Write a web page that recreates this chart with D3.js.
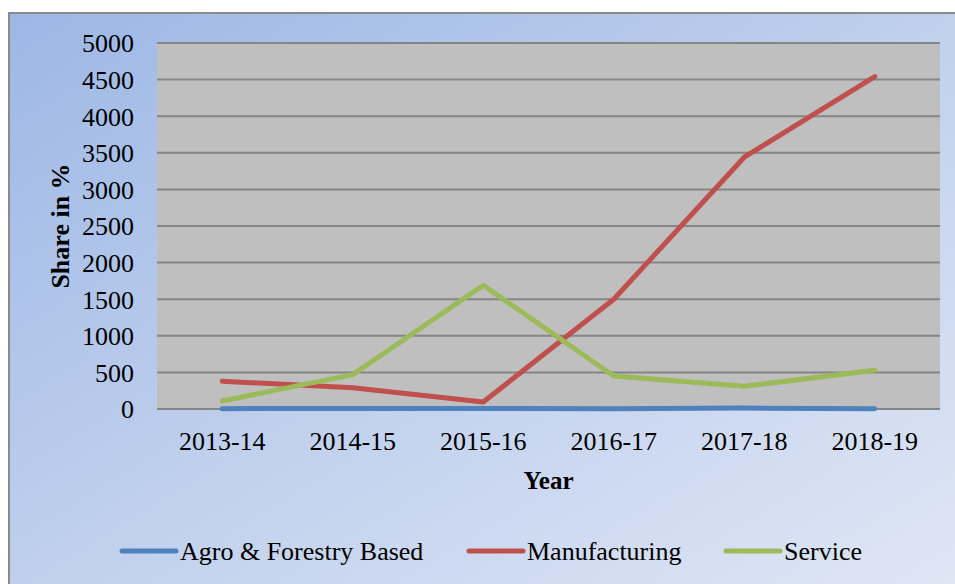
<!DOCTYPE html>
<html>
<head>
<meta charset="utf-8">
<script src="https://cdn.jsdelivr.net/npm/d3@7"></script>
<style>
  html, body { margin: 0; padding: 0; background: #ffffff; }
  svg { display: block; }
  text { font-family: "Liberation Serif", "Times New Roman", serif; fill: #000; }
</style>
</head>
<body>
<svg id="chart" width="955" height="584"></svg>
<script>
// Categories (financial years)
const years = ["2013-14", "2014-15", "2015-16", "2016-17", "2017-18", "2018-19"];

// Series values
const agroForestry = [5, 6, 8, 4, 12, 5];
const manufacturing = [380, 290, 95, 1500, 3440, 4540];
const service = [110, 470, 1690, 450, 310, 530];

// Y axis ticks
const yTicks = [0, 500, 1000, 1500, 2000, 2500, 3000, 3500, 4000, 4500, 5000];

const seriesNames = ["Agro & Forestry Based", "Manufacturing", "Service"];
const seriesColors = ["#4f81bd", "#c0504d", "#9bbb59"];

const series = [agroForestry, manufacturing, service].map((vals, i) => ({
  name: seriesNames[i],
  color: seriesColors[i],
  values: vals
}));

const W = 955, H = 584;
const plot = { left: 157, top: 43, right: 940, bottom: 409 };

const svg = d3.select("#chart");

// Chart area background gradient
const defs = svg.append("defs");
const grad = defs.append("linearGradient")
  .attr("id", "bg")
  .attr("x1", "0%").attr("y1", "0%")
  .attr("x2", "100%").attr("y2", "100%");
grad.append("stop").attr("offset", "0%").attr("stop-color", "#9db7e5");
grad.append("stop").attr("offset", "50%").attr("stop-color", "#c0d0ed");
grad.append("stop").attr("offset", "100%").attr("stop-color", "#e0e7f5");

svg.append("rect")
  .attr("x", 9).attr("y", 13)
  .attr("width", W).attr("height", H)
  .attr("fill", "url(#bg)")
  .attr("stroke", "#8a8a8a")
  .attr("stroke-width", 2);

// Scales
const x = d3.scaleBand()
  .domain(years)
  .range([plot.left, plot.right]);

const y = d3.scaleLinear()
  .domain([0, 5000])
  .range([plot.bottom, plot.top]);

// Plot area
svg.append("rect")
  .attr("x", plot.left).attr("y", plot.top)
  .attr("width", plot.right - plot.left)
  .attr("height", plot.bottom - plot.top)
  .attr("fill", "#bfbfbf");

// Horizontal gridlines
svg.append("g")
  .selectAll("line")
  .data(yTicks)
  .join("line")
  .attr("x1", plot.left).attr("x2", plot.right)
  .attr("y1", d => y(d)).attr("y2", d => y(d))
  .attr("stroke", "#858585")
  .attr("stroke-width", 2);

// Y axis labels
const yAxis = svg.append("g")
  .attr("transform", `translate(${plot.left},0)`)
  .call(d3.axisLeft(y).tickValues(yTicks).tickSize(0).tickPadding(23).tickFormat(d3.format("d")));
yAxis.select(".domain").remove();
yAxis.selectAll("text")
  .style("font-family", "'Liberation Serif', 'Times New Roman', serif")
  .style("font-size", "26px")
  .attr("fill", "#000")
  .attr("dy", "0.34em");

// X axis labels
const xAxis = svg.append("g")
  .attr("transform", `translate(0,${plot.bottom})`)
  .call(d3.axisBottom(x).tickSize(0).tickPadding(23));
xAxis.select(".domain").remove();
xAxis.selectAll("text")
  .style("font-family", "'Liberation Serif', 'Times New Roman', serif")
  .style("font-size", "26px")
  .attr("fill", "#000")
  .attr("dy", "0.71em");

// Axis titles
svg.append("text")
  .attr("transform", `translate(69,${(plot.top + plot.bottom) / 2}) rotate(-90)`)
  .attr("text-anchor", "middle")
  .style("font-size", "26px")
  .style("font-weight", "bold")
  .text("Share in %");

svg.append("text")
  .attr("x", (plot.left + plot.right) / 2)
  .attr("y", 489)
  .attr("text-anchor", "middle")
  .style("font-size", "25px")
  .style("font-weight", "bold")
  .text("Year");

// Lines
const line = d3.line()
  .x((d, i) => x(years[i]) + x.bandwidth() / 2)
  .y(d => y(d));

svg.append("g")
  .selectAll("path")
  .data(series)
  .join("path")
  .attr("d", d => line(d.values))
  .attr("fill", "none")
  .attr("stroke", d => d.color)
  .attr("stroke-width", 5)
  .attr("stroke-linecap", "round")
  .attr("stroke-linejoin", "round");

// Legend
const legendX = [122, 469, 726];
const legend = svg.append("g");
series.forEach((s, i) => {
  const lx = legendX[i];
  legend.append("line")
    .attr("x1", lx).attr("x2", lx + 54)
    .attr("y1", 551).attr("y2", 551)
    .attr("stroke", s.color)
    .attr("stroke-width", 5)
    .attr("stroke-linecap", "round");
  legend.append("text")
    .attr("x", lx + 58)
    .attr("y", 560)
    .style("font-size", "26px")
    .text(s.name);
});
</script>
</body>
</html>
